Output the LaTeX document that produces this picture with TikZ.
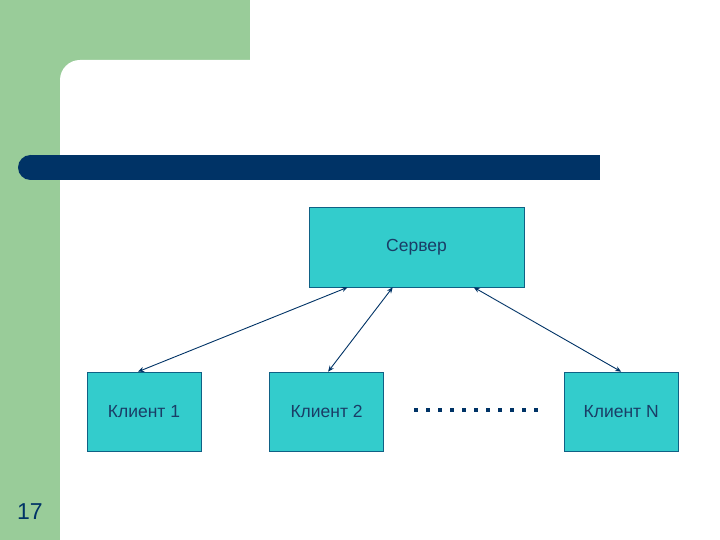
\documentclass[tikz,border=0pt]{standalone}
\usepackage{fontspec}
\setmainfont{Liberation Sans}
\usetikzlibrary{positioning,arrows.meta}

\definecolor{slidegreen}{HTML}{99CC99}
\definecolor{slidenavy}{HTML}{003366}
\definecolor{boxcyan}{HTML}{33CCCC}
\definecolor{textblue}{HTML}{1A3D66}

\tikzset{
	box/.style={draw=slidenavy!70!boxcyan, fill=boxcyan, line width=0.6pt,
		inner sep=0pt, text=textblue, font=\fontsize{17.5}{20}\selectfont},
	link/.style={{Stealth[length=6pt,width=5pt]}-{Stealth[length=6pt,width=5pt]},
		draw=slidenavy, line width=0.9pt},
}

\begin{document}
\begin{tikzpicture}[x=1pt,y=-1pt]
		\useasboundingbox (0,0) rectangle (720,540);
		% slide background
		\fill[slidegreen] (0,0) rectangle (250,60);
		\fill[slidegreen] (0,0) rectangle (80,540);
		\fill[slidegreen] (60,60) rectangle (90,90);
		\fill[white, rounded corners=20pt] (60,60) rectangle (760,580);
		\fill[slidenavy] (30.5,155) rectangle (600,180);
		\fill[slidenavy] (30.5,167.5) circle (12.5);
		\node[text=slidenavy, font=\fontsize{23}{26}\selectfont] (pagenum) at (30,512) {17};
		
		% server and clients
		\node[box, minimum width=215pt, minimum height=80pt] (server) at (416.5,247) {Сервер};
		\node[box, minimum width=114pt, minimum height=79pt] (client1) at (144,411.5) {Клиент 1};
		\node[box, minimum width=114pt, minimum height=79pt, right=68pt of client1] (client2) {Клиент 2};
		\node[box, minimum width=114pt, minimum height=79pt, right=180pt of client2] (clientN) {Клиент N};
		\coordinate (dotsL) at (414,410);
		\coordinate (dotsR) at (538,410);
		
		\draw[link] ([xshift=39pt]server.south west) -- ([xshift=-6pt]client1.north);
		\draw[link] ([xshift=84pt]server.south west) -- ([xshift=1.5pt]client2.north);
		\draw[link] ([xshift=165pt]server.south west) -- (clientN.north);
		\draw[slidenavy, line width=4pt, dash pattern=on 4pt off 8pt] (dotsL) -- (dotsR);
	\end{tikzpicture}
\end{document}
